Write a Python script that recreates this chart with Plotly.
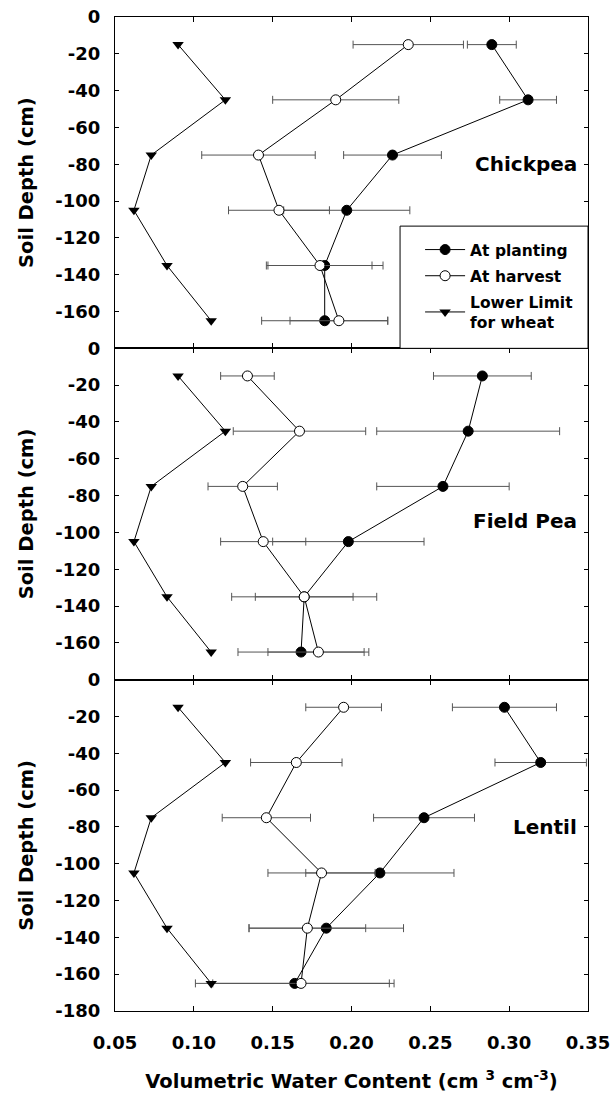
import plotly.graph_objects as go
from plotly.subplots import make_subplots

depth = [-15, -45, -75, -105, -135, -165]
lower_limit = [0.090, 0.120, 0.073, 0.062, 0.083, 0.111]

crops = ["Chickpea", "Field Pea", "Lentil"]

chickpea_plant = [0.289, 0.312, 0.226, 0.197, 0.183, 0.183]
chickpea_plant_err = [0.0155, 0.018, 0.031, 0.040, 0.037, 0.040]
chickpea_harv = [0.236, 0.190, 0.141, 0.154, 0.180, 0.192]
chickpea_harv_err = [0.035, 0.040, 0.036, 0.032, 0.033, 0.031]

fieldpea_plant = [0.283, 0.274, 0.258, 0.198, 0.170, 0.168]
fieldpea_plant_err = [0.031, 0.058, 0.042, 0.048, 0.031, 0.040]
fieldpea_harv = [0.134, 0.167, 0.131, 0.144, 0.170, 0.179]
fieldpea_harv_err = [0.017, 0.042, 0.022, 0.027, 0.046, 0.032]

lentil_plant = [0.297, 0.320, 0.246, 0.218, 0.184, 0.164]
lentil_plant_err = [0.033, 0.029, 0.032, 0.047, 0.049, 0.063]
lentil_harv = [0.195, 0.165, 0.146, 0.181, 0.172, 0.168]
lentil_harv_err = [0.024, 0.029, 0.028, 0.034, 0.037, 0.056]

x_ticks = [0.05, 0.10, 0.15, 0.20, 0.25, 0.30, 0.35]
y_ticks_upper = [0, -20, -40, -60, -80, -100, -120, -140, -160]
y_ticks_bottom = [0, -20, -40, -60, -80, -100, -120, -140, -160, -180]

panels = [
    (chickpea_plant, chickpea_plant_err, chickpea_harv, chickpea_harv_err),
    (fieldpea_plant, fieldpea_plant_err, fieldpea_harv, fieldpea_harv_err),
    (lentil_plant, lentil_plant_err, lentil_harv, lentil_harv_err),
]
label_y = [-80, -94, -80]

FONT = "DejaVu Sans"
ERRC = "#555555"

fig = make_subplots(rows=3, cols=1, shared_xaxes=True, vertical_spacing=0)

for i, (pl, ple, hv, hve) in enumerate(panels):
    row = i + 1
    first = (i == 0)
    fig.add_trace(go.Scatter(
        x=pl, y=depth, mode="lines+markers", name="<b>At planting</b>",
        line=dict(color="black", width=1),
        marker=dict(symbol="circle", size=10, color="black", line=dict(color="black", width=1)),
        error_x=dict(type="data", array=ple, visible=True, color=ERRC, thickness=1, width=4),
        showlegend=first, legendgroup="a",
    ), row=row, col=1)
    fig.add_trace(go.Scatter(
        x=hv, y=depth, mode="lines+markers", name="<b>At harvest</b>",
        line=dict(color="black", width=1),
        marker=dict(symbol="circle", size=10, color="white", line=dict(color="black", width=1)),
        error_x=dict(type="data", array=hve, visible=True, color=ERRC, thickness=1, width=4),
        showlegend=first, legendgroup="b",
    ), row=row, col=1)
    fig.add_trace(go.Scatter(
        x=lower_limit, y=depth, mode="lines+markers", name="<b>Lower Limit<br>for wheat</b>",
        line=dict(color="black", width=1),
        marker=dict(symbol="triangle-down", size=10, color="black"),
        showlegend=first, legendgroup="c",
    ), row=row, col=1)

    yref = "y" if row == 1 else f"y{row}"
    fig.add_annotation(x=0.344, y=label_y[i], xref="x", yref=yref, text=f"<b>{crops[i]}</b>",
                       showarrow=False, xanchor="right", yanchor="middle",
                       font=dict(family=FONT, size=20, color="black"))

    fig.update_yaxes(
        row=row, col=1, range=[-180, 0], automargin=False,
        tickvals=y_ticks_bottom if row == 3 else y_ticks_upper,
        ticktext=[f"<b>{v}</b>" for v in (y_ticks_bottom if row == 3 else y_ticks_upper)],
        ticks="inside", ticklen=4, tickcolor="black",
        showline=True, linecolor="black", linewidth=1, mirror="ticks",
        showgrid=False, zeroline=False, ticklabelstandoff=10,
        tickfont=dict(family=FONT, size=18, color="black"),
        title=dict(text="<b>Soil Depth (cm)</b>", font=dict(family=FONT, size=19.5, color="black"), standoff=16),
    )
    fig.update_xaxes(
        row=row, col=1, range=[0.05, 0.35], automargin=False,
        tickvals=x_ticks,
        ticktext=[f"<b>{v:.2f}</b>" for v in x_ticks],
        ticks="inside", ticklen=5, tickcolor="black",
        showline=True, linecolor="black", linewidth=1, mirror="ticks",
        showgrid=False, zeroline=False,
        showticklabels=(row == 3), ticklabelstandoff=15,
        tickfont=dict(family=FONT, size=18, color="black"),
    )

fig.update_xaxes(row=3, col=1,
                 title=dict(text="<b>Volumetric Water Content (cm <sup>3</sup> cm<sup>-3</sup>)</b>",
                            font=dict(family=FONT, size=19.5, color="black"), standoff=22))

# legend frame (bottom-right of top panel)
fig.add_shape(type="rect", xref="x", yref="y", x0=0.2308, x1=0.35, y0=-113.6, y1=-180,
              fillcolor="white", line=dict(color="black", width=1), layer="above")

fig.update_layout(
    width=611, height=1095,
    margin=dict(l=115, r=23, t=17, b=84),
    paper_bgcolor="white", plot_bgcolor="white",
    font=dict(family=FONT, color="black"),
    legend=dict(x=0.645, y=0.7827, xanchor="left", yanchor="top",
                bgcolor="rgba(0,0,0,0)", borderwidth=0,
                font=dict(family=FONT, size=15.5, color="black"),
                traceorder="grouped", itemwidth=40, tracegroupgap=3),
)

fig.write_html("out.html", config={"displayModeBar": False},
               post_script="document.body.style.margin='0';document.body.style.overflow='hidden';")
